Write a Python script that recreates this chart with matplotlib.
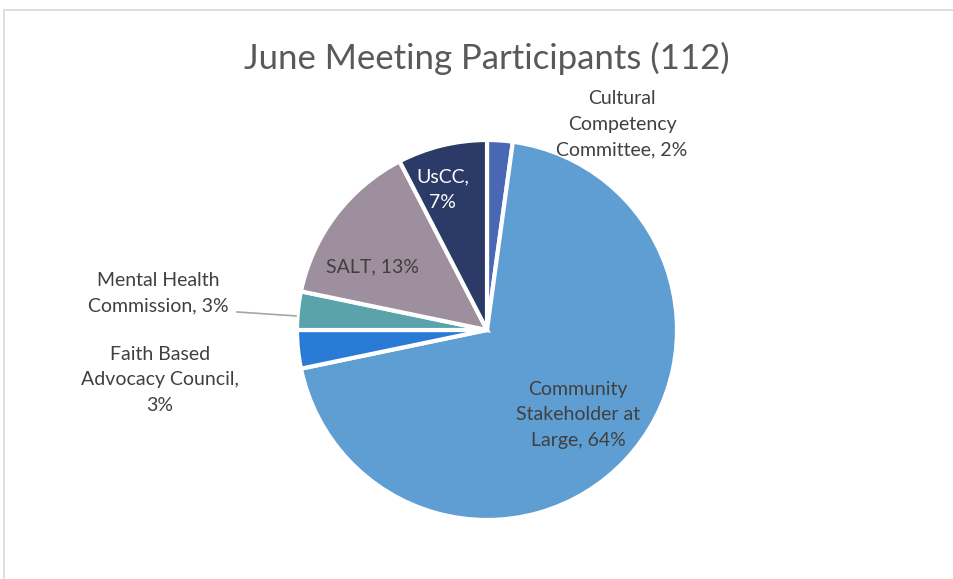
import matplotlib.pyplot as plt
from matplotlib.patches import Rectangle

labels = ["Cultural\nCompetency\nCommittee, 2%",
          "Community\nStakeholder at\nLarge, 64%",
          "Faith Based\nAdvocacy Council,\n3%",
          "Mental Health\nCommission, 3%",
          "SALT, 13%",
          "UsCC,\n7%"]
values = [2, 64, 3, 3, 13, 7]
colors = ["#4a67b3", "#5f9ed3", "#2a7bd6", "#5aa3ab", "#9d8f9d", "#2b3a66"]
label_pos = [(0.711, 1.084), (0.479, -0.447), (-1.721, -0.263),
             (-1.732, 0.195), (-0.605, 0.332), (-0.232, 0.737)]
label_colors = ["#404040", "#404040", "#404040", "#404040", "#404040", "white"]

plt.rcParams['font.family'] = ['Lato', 'DejaVu Sans']

W, H = 954, 579
fig = plt.figure(figsize=(W / 100, H / 100), dpi=100)

# chart frame
fig.patches.append(Rectangle((4 / W, -0.1), 1.2, (H - 10) / H + 0.1, transform=fig.transFigure,
                             fill=False, edgecolor="#d9d9d9", linewidth=1.2))

cx, cy, r = 487, 330, 190
ax = fig.add_axes([(cx - r) / W, (H - cy - r) / H, 2 * r / W, 2 * r / H])
ax.pie(values, colors=colors, startangle=90, counterclock=False, radius=1,
       wedgeprops=dict(edgecolor="white", linewidth=3))
ax.set_xlim(-1, 1)
ax.set_ylim(-1, 1)
ax.set_aspect('auto')
ax.axis('off')

for text, (x, y), c in zip(labels, label_pos, label_colors):
    ax.text(x, y, text, ha="center", va="center", fontsize=14, color=c,
            linespacing=1.6, clip_on=False)

# leader line for Mental Health label
ax.plot([-1.316, -1.005], [0.095, 0.074], color="#a6a6a6", linewidth=1.2, clip_on=False)

fig.text(487 / W, 1 - 58 / H, "June Meeting Participants (112)", ha="center", va="center",
         fontsize=25, color="#595959")

fig.savefig("out.png", dpi=100)
